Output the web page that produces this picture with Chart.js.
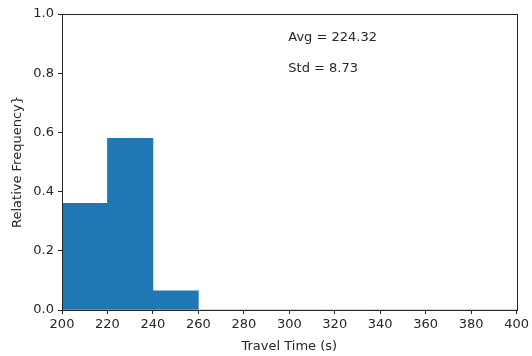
<!DOCTYPE html>
<html>
<head>
<meta charset="utf-8">
<script src="https://cdn.jsdelivr.net/npm/chart.js@4/dist/chart.umd.min.js"></script>
<style>
  html, body { margin: 0; padding: 0; background: #fff; }
  #wrap { width: 532px; height: 356px; }
</style>
</head>
<body>
<div id="wrap"><canvas id="myChart" width="532" height="356"></canvas></div>
<script>
// histogram bins (left edges, width 20) and relative frequencies
var binEdges = [200, 220, 240, 260, 280, 300, 320, 340, 360, 380];
var relFreq = [0.36, 0.58, 0.065, 0, 0, 0, 0, 0, 0, 0];
var xTicks = [200, 220, 240, 260, 280, 300, 320, 340, 360, 380, 400];
var yTicks = [0.0, 0.2, 0.4, 0.6, 0.8, 1.0];
var statLabels = ["Avg = 224.32", "Std = 8.73"];
var statX = [300, 300];
var statY = [0.91, 0.805];

var font = "'DejaVu Sans', sans-serif";
var ink = "#262626";
var fs = 13;

var frame = {
    id: 'frame',
    afterDatasetsDraw: function (chart) {
        var a = chart.chartArea, c = chart.ctx;
        c.save();
        c.strokeStyle = ink;
        c.lineWidth = 1;
        c.strokeRect(Math.round(a.left) + 0.5, Math.round(a.top) + 0.5,
            Math.round(a.right - a.left), Math.round(a.bottom - a.top));
        c.restore();
    }
};

var stats = {
    id: 'stats',
    afterDraw: function (chart) {
        var c = chart.ctx, xs = chart.scales.x, ys = chart.scales.y;
        c.save();
        c.fillStyle = ink;
        c.font = fs + "px " + font;
        c.textBaseline = 'alphabetic';
        c.textAlign = 'left';
        for (var i = 0; i < statLabels.length; i++) {
            c.fillText(statLabels[i], xs.getPixelForValue(statX[i]) - 1, ys.getPixelForValue(statY[i]));
        }
        c.restore();
    }
};

var ctx = document.getElementById("myChart");
var myChart = new Chart(ctx, {
    type: 'bar',
    data: {
        labels: binEdges.map(String),
        datasets: [{
            data: relFreq,
            backgroundColor: "#1f77b4",
            borderWidth: 0,
            categoryPercentage: 1.0,
            barPercentage: 1.0,
            xAxisID: 'bins'
        }]
    },
    options: {
        responsive: false,
        animation: false,
        events: [],
        layout: { padding: { top: 14, right: 13, left: 0, bottom: 0 } },
        plugins: { legend: { display: false }, tooltip: { enabled: false } },
        scales: {
            bins: {
                type: 'category',
                display: false
            },
            x: {
                type: 'linear',
                position: 'bottom',
                min: 200,
                max: 400,
                offset: false,
                afterBuildTicks: function (axis) {
                    axis.ticks = xTicks.map(function (v) { return { value: v }; });
                },
                afterFit: function (axis) { axis.height = 46; },
                ticks: {
                    color: ink,
                    font: { family: font, size: fs },
                    padding: 3,
                    maxRotation: 0,
                    autoSkip: false
                },
                grid: { offset: false, drawOnChartArea: false, drawTicks: true, tickLength: 4, color: ink },
                border: { display: true, color: ink },
                title: {
                    display: true,
                    text: 'Travel Time (s)',
                    color: ink,
                    font: { family: font, size: fs },
                    padding: { top: 0, bottom: 2 }
                }
            },
            y: {
                min: 0,
                max: 1,
                afterBuildTicks: function (axis) {
                    axis.ticks = yTicks.map(function (v) { return { value: v }; });
                },
                afterFit: function (axis) { axis.width = 62; },
                ticks: {
                    color: ink,
                    font: { family: font, size: fs },
                    padding: 4,
                    callback: function (v) { return v.toFixed(1); }
                },
                grid: { drawOnChartArea: false, drawTicks: true, tickLength: 4, color: ink },
                border: { display: true, color: ink },
                title: {
                    display: true,
                    text: 'Relative Frequency}',
                    color: ink,
                    font: { family: font, size: fs },
                    padding: { top: 10, bottom: 0 }
                }
            }
        }
    },
    plugins: [frame, stats]
});
</script>
</body>
</html>
